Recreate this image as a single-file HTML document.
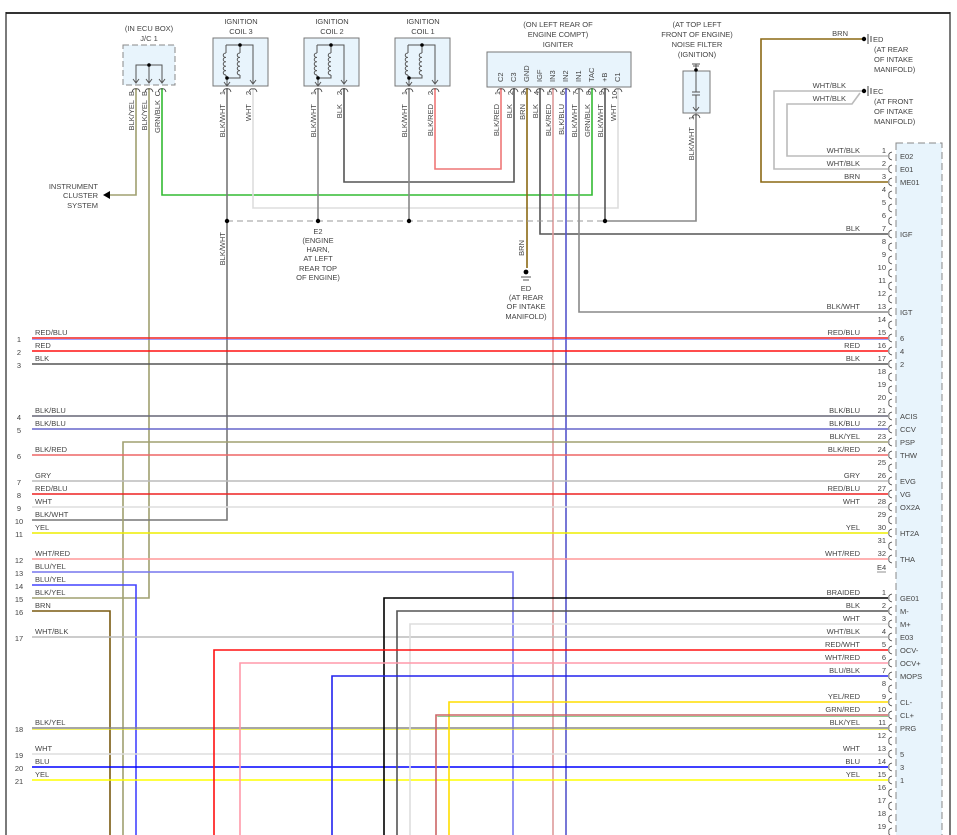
<!DOCTYPE html>
<html><head><meta charset="utf-8"><style>
html,body{margin:0;padding:0;background:#fff;}
svg{display:block;}
text{font-family:"Liberation Sans",sans-serif;font-size:7.5px;fill:#444;}
.r{text-anchor:end}.m{text-anchor:middle}
.w{fill:none;stroke-width:1.6}
</style></head><body>
<svg width="957" height="835" viewBox="0 0 957 835" xmlns="http://www.w3.org/2000/svg">
<rect width="957" height="835" fill="#fff"/>
<line x1="6" y1="13" x2="950" y2="13" stroke="#333" stroke-width="2"/>
<line x1="6" y1="12" x2="6" y2="835" stroke="#222" stroke-width="1.2"/>
<line x1="950" y1="12" x2="950" y2="835" stroke="#222" stroke-width="1.2"/>

<!-- ECU box -->
<rect x="896" y="143" width="46" height="700" fill="#e8f4fc" stroke="#888" stroke-dasharray="7,4"/>

<!-- J/C 1 -->
<text class="m" x="149" y="31">(IN ECU BOX)</text><text class="m" x="149" y="41">J/C 1</text>
<rect x="123" y="45" width="52" height="40" fill="#e8f4fc" stroke="#888" stroke-dasharray="6,3"/>
<path d="M136 82V65H162V82M149 65V82" fill="none" stroke="#555"/><circle cx="149" cy="65" r="1.8" fill="#000"/>
<path d="M133 79l3 4 3-4M146 79l3 4 3-4M159 79l3 4 3-4" fill="none" stroke="#555"/>

<!-- Coils -->
<g id="coil">
<rect x="213" y="38" width="55" height="48" fill="#e8f4fc" stroke="#777"/>
<path d="M226 45V53M226 75V78M240 45V53M240 75V78H227M227 78V86M226 45H253V83" fill="none" stroke="#555"/>
<path d="M226 53a2.5 2 0 0 0 0 4.4a2.5 2 0 0 0 0 4.4a2.5 2 0 0 0 0 4.4a2.5 2 0 0 0 0 4.4a2.5 2 0 0 0 0 4.4M240 53a2.5 2 0 0 0 0 4.4a2.5 2 0 0 0 0 4.4a2.5 2 0 0 0 0 4.4a2.5 2 0 0 0 0 4.4a2.5 2 0 0 0 0 4.4" fill="none" stroke="#555"/>
<circle cx="240" cy="45" r="1.8" fill="#000"/><circle cx="227" cy="78" r="1.8" fill="#000"/>
<path d="M250 80l3 4 3-4M224 82l3 4 3-4" fill="none" stroke="#555"/>
</g>
<use href="#coil" x="91"/><use href="#coil" x="182"/>
<text class="m" x="241" y="24">IGNITION</text><text class="m" x="241" y="34">COIL 3</text>
<text class="m" x="332" y="24">IGNITION</text><text class="m" x="332" y="34">COIL 2</text>
<text class="m" x="423" y="24">IGNITION</text><text class="m" x="423" y="34">COIL 1</text>

<!-- Igniter -->
<text class="m" x="558" y="27">(ON LEFT REAR OF</text><text class="m" x="558" y="37">ENGINE COMPT)</text><text class="m" x="558" y="47">IGNITER</text>
<rect x="487" y="52" width="144" height="35" fill="#e8f4fc" stroke="#777"/>
<g transform="rotate(-90)">
<text x="-82" y="503">C2</text><text x="-82" y="516">C3</text><text x="-82" y="529">GND</text><text x="-82" y="542">IGF</text><text x="-82" y="555">IN3</text><text x="-82" y="568">IN2</text><text x="-82" y="581">IN1</text><text x="-82" y="594">TAC</text><text x="-82" y="607">+B</text><text x="-82" y="620">C1</text>
<text class="r" x="-91" y="500">1</text><text class="r" x="-91" y="513">2</text><text class="r" x="-91" y="526">3</text><text class="r" x="-91" y="539">4</text><text class="r" x="-91" y="552">5</text><text class="r" x="-91" y="565">6</text><text class="r" x="-91" y="578">7</text><text class="r" x="-91" y="591">8</text><text class="r" x="-91" y="604">9</text><text class="r" x="-91" y="617">10</text>
<text class="r" x="-104" y="499">BLK/RED</text><text class="r" x="-104" y="512">BLK</text><text class="r" x="-104" y="525">BRN</text><text class="r" x="-104" y="538">BLK</text><text class="r" x="-104" y="551">BLK/RED</text><text class="r" x="-104" y="564">BLK/BLU</text><text class="r" x="-104" y="577">BLK/WHT</text><text class="r" x="-104" y="590">GRN/BLK</text><text class="r" x="-104" y="603">BLK/WHT</text><text class="r" x="-104" y="616">WHT</text>
<text class="r" x="-91" y="134">B</text><text class="r" x="-91" y="147">B</text><text class="r" x="-91" y="160">C</text>
<text class="r" x="-100" y="134">BLK/YEL</text><text class="r" x="-100" y="147">BLK/YEL</text><text class="r" x="-100" y="160">GRN/BLK</text>
<text class="r" x="-91" y="225">1</text><text class="r" x="-91" y="251">2</text><text class="r" x="-104" y="225">BLK/WHT</text><text class="r" x="-104" y="251">WHT</text>
<text class="r" x="-91" y="316">1</text><text class="r" x="-91" y="342">2</text><text class="r" x="-104" y="316">BLK/WHT</text><text class="r" x="-104" y="342">BLK</text>
<text class="r" x="-91" y="407">1</text><text class="r" x="-91" y="433">2</text><text class="r" x="-104" y="407">BLK/WHT</text><text class="r" x="-104" y="433">BLK/RED</text>
<text class="r" x="-116" y="694">1</text><text class="r" x="-127" y="694">BLK/WHT</text>
<text class="r" x="-232" y="225">BLK/WHT</text>
<text class="r" x="-240" y="524">BRN</text>
</g>

<!-- Noise filter -->
<text class="m" x="697" y="27">(AT TOP LEFT</text><text class="m" x="697" y="37">FRONT OF ENGINE)</text><text class="m" x="697" y="47">NOISE FILTER</text><text class="m" x="697" y="57">(IGNITION)</text>
<rect x="683" y="71" width="27" height="42" fill="#e8f4fc" stroke="#777"/>
<path d="M696 64V92M692 92h8M692 95h8M696 95V110M693 107l3 4 3-4M692 64h8M693 66h6" fill="none" stroke="#555"/>
<circle cx="696" cy="70" r="1.8" fill="#000"/>

<!-- top wiring -->
<polyline class="w" points="136,88 136,195 110,195" stroke="#a0a070"/>
<path d="M103 195l7-4v8z" fill="#000"/>
<text class="r" x="98" y="189">INSTRUMENT</text><text class="r" x="98" y="198">CLUSTER</text><text class="r" x="98" y="208">SYSTEM</text>
<polyline class="w" points="149,88 149,598 32,598" stroke="#a0a070"/>
<polyline class="w" points="162,88 162,195 592,195 592,88" stroke="#3b3"/>
<polyline class="w" points="227,88 227,520 32,520" stroke="#777"/>
<polyline class="w" points="253,88 253,208 618,208 618,88" stroke="#ddd"/>
<polyline class="w" points="318,88 318,221" stroke="#888"/>
<polyline class="w" points="344,88 344,182 514,182 514,88" stroke="#555"/>
<polyline class="w" points="409,88 409,221" stroke="#888"/>
<polyline class="w" points="435,88 435,169 501,169 501,88" stroke="#e77"/>
<polyline class="w" points="527,88 527,268" stroke="#8b6914"/>
<polyline class="w" points="540,88 540,234 888,234" stroke="#555"/>
<polyline class="w" points="553,88 553,835" stroke="#d99"/>
<polyline class="w" points="566,88 566,835" stroke="#55c"/>
<polyline class="w" points="579,88 579,312 888,312" stroke="#888"/>
<polyline class="w" points="605,88 605,221" stroke="#555"/>
<polyline class="w" points="605,221 696,221 696,113" stroke="#888"/>
<line x1="227" y1="221" x2="605" y2="221" stroke="#999" stroke-dasharray="6,4"/>
<g fill="#000"><circle cx="227" cy="221" r="2.2"/><circle cx="318" cy="221" r="2.2"/><circle cx="409" cy="221" r="2.2"/><circle cx="605" cy="221" r="2.2"/><circle cx="526" cy="272" r="2.4"/></g>
<path d="M521 277h10M523 280h6" stroke="#555" fill="none"/>
<text class="m" x="318" y="234">E2</text><text class="m" x="318" y="243">(ENGINE</text><text class="m" x="318" y="252">HARN,</text><text class="m" x="318" y="261">AT LEFT</text><text class="m" x="318" y="271">REAR TOP</text><text class="m" x="318" y="280">OF ENGINE)</text>
<text class="m" x="526" y="291">ED</text><text class="m" x="526" y="300">(AT REAR</text><text class="m" x="526" y="309">OF INTAKE</text><text class="m" x="526" y="319">MANIFOLD)</text>

<!-- ground right -->
<polyline class="w" points="888,182 761,182 761,39 864,39" stroke="#8b6914"/>
<polyline class="w" points="888,169 774,169 774,91 864,91" stroke="#bbb"/>
<polyline class="w" points="888,156 787,156 787,104 852,104 860,93" stroke="#bbb"/>
<circle cx="864" cy="39" r="2.2" fill="#000"/><circle cx="864" cy="91" r="2.2" fill="#000"/>
<path d="M868 34v10M871 36v6M868 86v10M871 88v6" stroke="#444"/>
<text x="873" y="42">ED</text><text x="874" y="52">(AT REAR</text><text x="874" y="62">OF INTAKE</text><text x="874" y="72">MANIFOLD)</text>
<text x="873" y="94">EC</text><text x="874" y="104">(AT FRONT</text><text x="874" y="114">OF INTAKE</text><text x="874" y="124">MANIFOLD)</text>
<text class="r" x="848" y="36">BRN</text><text class="r" x="846" y="88">WHT/BLK</text><text class="r" x="846" y="101">WHT/BLK</text>

<!-- horizontal left wires -->
<line class="w" x1="32" y1="338" x2="888" y2="338" stroke="#e22"/>
<line x1="32" y1="339.3" x2="888" y2="339.3" stroke="#66f" stroke-width="0.6"/>
<line class="w" x1="32" y1="351" x2="888" y2="351" stroke="#f11"/>
<line class="w" x1="32" y1="364" x2="888" y2="364" stroke="#555"/>
<line class="w" x1="32" y1="416" x2="888" y2="416" stroke="#667"/>
<line class="w" x1="32" y1="429" x2="888" y2="429" stroke="#66c"/>
<polyline class="w" points="888,442 123,442 123,835" stroke="#a0a070"/>
<line class="w" x1="32" y1="455" x2="888" y2="455" stroke="#e66"/>
<line class="w" x1="32" y1="481" x2="888" y2="481" stroke="#bbb"/>
<line class="w" x1="32" y1="494" x2="888" y2="494" stroke="#e22"/>
<line class="w" x1="32" y1="507" x2="888" y2="507" stroke="#ddd"/>
<line class="w" x1="32" y1="533" x2="888" y2="533" stroke="#ee0"/>
<line class="w" x1="32" y1="559" x2="888" y2="559" stroke="#f99"/>
<polyline class="w" points="32,572 513,572 513,835" stroke="#77e"/>
<polyline class="w" points="32,585 136,585 136,835" stroke="#44f"/>
<polyline class="w" points="32,611 110,611 110,835" stroke="#7a5a10"/>
<line class="w" x1="32" y1="637" x2="888" y2="637" stroke="#bbb"/>
<line class="w" x1="32" y1="728" x2="888" y2="728" stroke="#888"/>
<line x1="32" y1="729.3" x2="888" y2="729.3" stroke="#ee0" stroke-width="0.6"/>
<line class="w" x1="32" y1="754" x2="888" y2="754" stroke="#ddd"/>
<line class="w" x1="32" y1="767" x2="888" y2="767" stroke="#00f"/>
<line class="w" x1="32" y1="780" x2="888" y2="780" stroke="#ff0"/>
<!-- bottom connector verticals -->
<polyline class="w" points="888,598 384,598 384,835" stroke="#000"/>
<polyline class="w" points="888,611 397,611 397,835" stroke="#555"/>
<polyline class="w" points="888,624 410,624 410,835" stroke="#ddd"/>
<polyline class="w" points="888,650 214,650 214,835" stroke="#f11"/>
<polyline class="w" points="888,663 240,663 240,835" stroke="#f9a"/>
<polyline class="w" points="888,676 332,676 332,835" stroke="#22e"/>
<polyline class="w" points="888,702 449,702 449,835" stroke="#fd0"/>
<polyline class="w" points="888,715 436,715 436,835" stroke="#c66"/>
<line x1="437.3" y1="716.3" x2="888" y2="716.3" stroke="#5a5" stroke-width="0.6"/>

<!-- left labels -->
<g>
<text x="35" y="335">RED/BLU</text><text x="35" y="348">RED</text><text x="35" y="361">BLK</text><text x="35" y="413">BLK/BLU</text><text x="35" y="426">BLK/BLU</text><text x="35" y="452">BLK/RED</text><text x="35" y="478">GRY</text><text x="35" y="491">RED/BLU</text><text x="35" y="504">WHT</text><text x="35" y="517">BLK/WHT</text><text x="35" y="530">YEL</text><text x="35" y="556">WHT/RED</text><text x="35" y="569">BLU/YEL</text><text x="35" y="582">BLU/YEL</text><text x="35" y="595">BLK/YEL</text><text x="35" y="608">BRN</text><text x="35" y="634">WHT/BLK</text><text x="35" y="725">BLK/YEL</text><text x="35" y="751">WHT</text><text x="35" y="764">BLU</text><text x="35" y="777">YEL</text>
</g>
<g>
<text class="m" x="19" y="342">1</text><text class="m" x="19" y="355">2</text><text class="m" x="19" y="368">3</text><text class="m" x="19" y="420">4</text><text class="m" x="19" y="433">5</text><text class="m" x="19" y="459">6</text><text class="m" x="19" y="485">7</text><text class="m" x="19" y="498">8</text><text class="m" x="19" y="511">9</text><text class="m" x="19" y="524">10</text><text class="m" x="19" y="537">11</text><text class="m" x="19" y="563">12</text><text class="m" x="19" y="576">13</text><text class="m" x="19" y="589">14</text><text class="m" x="19" y="602">15</text><text class="m" x="19" y="615">16</text><text class="m" x="19" y="641">17</text><text class="m" x="19" y="732">18</text><text class="m" x="19" y="758">19</text><text class="m" x="19" y="771">20</text><text class="m" x="19" y="784">21</text>
</g>

<!-- right connector E4 -->
<g>
<text class="r" x="886" y="153">1</text><text class="r" x="886" y="166">2</text><text class="r" x="886" y="179">3</text><text class="r" x="886" y="192">4</text><text class="r" x="886" y="205">5</text><text class="r" x="886" y="218">6</text><text class="r" x="886" y="231">7</text><text class="r" x="886" y="244">8</text><text class="r" x="886" y="257">9</text><text class="r" x="886" y="270">10</text><text class="r" x="886" y="283">11</text><text class="r" x="886" y="296">12</text><text class="r" x="886" y="309">13</text><text class="r" x="886" y="322">14</text><text class="r" x="886" y="335">15</text><text class="r" x="886" y="348">16</text><text class="r" x="886" y="361">17</text><text class="r" x="886" y="374">18</text><text class="r" x="886" y="387">19</text><text class="r" x="886" y="400">20</text><text class="r" x="886" y="413">21</text><text class="r" x="886" y="426">22</text><text class="r" x="886" y="439">23</text><text class="r" x="886" y="452">24</text><text class="r" x="886" y="465">25</text><text class="r" x="886" y="478">26</text><text class="r" x="886" y="491">27</text><text class="r" x="886" y="504">28</text><text class="r" x="886" y="517">29</text><text class="r" x="886" y="530">30</text><text class="r" x="886" y="543">31</text><text class="r" x="886" y="556">32</text>
<text class="r" x="860" y="153">WHT/BLK</text><text class="r" x="860" y="166">WHT/BLK</text><text class="r" x="860" y="179">BRN</text><text class="r" x="860" y="231">BLK</text><text class="r" x="860" y="309">BLK/WHT</text><text class="r" x="860" y="335">RED/BLU</text><text class="r" x="860" y="348">RED</text><text class="r" x="860" y="361">BLK</text><text class="r" x="860" y="413">BLK/BLU</text><text class="r" x="860" y="426">BLK/BLU</text><text class="r" x="860" y="439">BLK/YEL</text><text class="r" x="860" y="452">BLK/RED</text><text class="r" x="860" y="478">GRY</text><text class="r" x="860" y="491">RED/BLU</text><text class="r" x="860" y="504">WHT</text><text class="r" x="860" y="530">YEL</text><text class="r" x="860" y="556">WHT/RED</text>
</g>
<text x="877" y="570">E4</text>
<line x1="877" y1="572" x2="886" y2="572" stroke="#444" stroke-width="0.6"/>
<g>
<text x="900" y="159">E02</text><text x="900" y="172">E01</text><text x="900" y="185">ME01</text><text x="900" y="237">IGF</text><text x="900" y="315">IGT</text><text x="900" y="341">6</text><text x="900" y="354">4</text><text x="900" y="367">2</text><text x="900" y="419">ACIS</text><text x="900" y="432">CCV</text><text x="900" y="445">PSP</text><text x="900" y="458">THW</text><text x="900" y="484">EVG</text><text x="900" y="497">VG</text><text x="900" y="510">OX2A</text><text x="900" y="536">HT2A</text><text x="900" y="562">THA</text>
</g>
<!-- bottom connector -->
<g>
<text class="r" x="886" y="595">1</text><text class="r" x="886" y="608">2</text><text class="r" x="886" y="621">3</text><text class="r" x="886" y="634">4</text><text class="r" x="886" y="647">5</text><text class="r" x="886" y="660">6</text><text class="r" x="886" y="673">7</text><text class="r" x="886" y="686">8</text><text class="r" x="886" y="699">9</text><text class="r" x="886" y="712">10</text><text class="r" x="886" y="725">11</text><text class="r" x="886" y="738">12</text><text class="r" x="886" y="751">13</text><text class="r" x="886" y="764">14</text><text class="r" x="886" y="777">15</text><text class="r" x="886" y="790">16</text><text class="r" x="886" y="803">17</text><text class="r" x="886" y="816">18</text><text class="r" x="886" y="829">19</text>
<text class="r" x="860" y="595">BRAIDED</text><text class="r" x="860" y="608">BLK</text><text class="r" x="860" y="621">WHT</text><text class="r" x="860" y="634">WHT/BLK</text><text class="r" x="860" y="647">RED/WHT</text><text class="r" x="860" y="660">WHT/RED</text><text class="r" x="860" y="673">BLU/BLK</text><text class="r" x="860" y="699">YEL/RED</text><text class="r" x="860" y="712">GRN/RED</text><text class="r" x="860" y="725">BLK/YEL</text><text class="r" x="860" y="751">WHT</text><text class="r" x="860" y="764">BLU</text><text class="r" x="860" y="777">YEL</text>
<text x="900" y="601">GE01</text><text x="900" y="614">M-</text><text x="900" y="627">M+</text><text x="900" y="640">E03</text><text x="900" y="653">OCV-</text><text x="900" y="666">OCV+</text><text x="900" y="679">MOPS</text><text x="900" y="705">CL-</text><text x="900" y="718">CL+</text><text x="900" y="731">PRG</text><text x="900" y="757">5</text><text x="900" y="770">3</text><text x="900" y="783">1</text>
</g>
<!-- connector glyphs -->
<g fill="none" stroke="#444" stroke-width="0.8">
<path d="M892 152q-4 1-3 4q-1 3 3 4M892 165q-4 1-3 4q-1 3 3 4M892 178q-4 1-3 4q-1 3 3 4M892 191q-4 1-3 4q-1 3 3 4M892 204q-4 1-3 4q-1 3 3 4M892 217q-4 1-3 4q-1 3 3 4M892 230q-4 1-3 4q-1 3 3 4M892 243q-4 1-3 4q-1 3 3 4M892 256q-4 1-3 4q-1 3 3 4M892 269q-4 1-3 4q-1 3 3 4M892 282q-4 1-3 4q-1 3 3 4M892 295q-4 1-3 4q-1 3 3 4M892 308q-4 1-3 4q-1 3 3 4M892 321q-4 1-3 4q-1 3 3 4M892 334q-4 1-3 4q-1 3 3 4M892 347q-4 1-3 4q-1 3 3 4M892 360q-4 1-3 4q-1 3 3 4M892 373q-4 1-3 4q-1 3 3 4M892 386q-4 1-3 4q-1 3 3 4M892 399q-4 1-3 4q-1 3 3 4M892 412q-4 1-3 4q-1 3 3 4M892 425q-4 1-3 4q-1 3 3 4M892 438q-4 1-3 4q-1 3 3 4M892 451q-4 1-3 4q-1 3 3 4M892 464q-4 1-3 4q-1 3 3 4M892 477q-4 1-3 4q-1 3 3 4M892 490q-4 1-3 4q-1 3 3 4M892 503q-4 1-3 4q-1 3 3 4M892 516q-4 1-3 4q-1 3 3 4M892 529q-4 1-3 4q-1 3 3 4M892 542q-4 1-3 4q-1 3 3 4M892 555q-4 1-3 4q-1 3 3 4"/>
<path d="M892 594q-4 1-3 4q-1 3 3 4M892 607q-4 1-3 4q-1 3 3 4M892 620q-4 1-3 4q-1 3 3 4M892 633q-4 1-3 4q-1 3 3 4M892 646q-4 1-3 4q-1 3 3 4M892 659q-4 1-3 4q-1 3 3 4M892 672q-4 1-3 4q-1 3 3 4M892 685q-4 1-3 4q-1 3 3 4M892 698q-4 1-3 4q-1 3 3 4M892 711q-4 1-3 4q-1 3 3 4M892 724q-4 1-3 4q-1 3 3 4M892 737q-4 1-3 4q-1 3 3 4M892 750q-4 1-3 4q-1 3 3 4M892 763q-4 1-3 4q-1 3 3 4M892 776q-4 1-3 4q-1 3 3 4M892 789q-4 1-3 4q-1 3 3 4M892 802q-4 1-3 4q-1 3 3 4M892 815q-4 1-3 4q-1 3 3 4M892 828q-4 1-3 4q-1 3 3 4"/>
<path d="M497 92q1-4 4-3q3-1 4 3M510 92q1-4 4-3q3-1 4 3M523 92q1-4 4-3q3-1 4 3M536 92q1-4 4-3q3-1 4 3M549 92q1-4 4-3q3-1 4 3M562 92q1-4 4-3q3-1 4 3M575 92q1-4 4-3q3-1 4 3M588 92q1-4 4-3q3-1 4 3M601 92q1-4 4-3q3-1 4 3M614 92q1-4 4-3q3-1 4 3"/>
<path d="M132 92q1-4 4-3q3-1 4 3M145 92q1-4 4-3q3-1 4 3M158 92q1-4 4-3q3-1 4 3M223 92q1-4 4-3q3-1 4 3M249 92q1-4 4-3q3-1 4 3M314 92q1-4 4-3q3-1 4 3M340 92q1-4 4-3q3-1 4 3M405 92q1-4 4-3q3-1 4 3M431 92q1-4 4-3q3-1 4 3M692 118q1-4 4-3q3-1 4 3"/>
</g>
</svg>
</body></html>
